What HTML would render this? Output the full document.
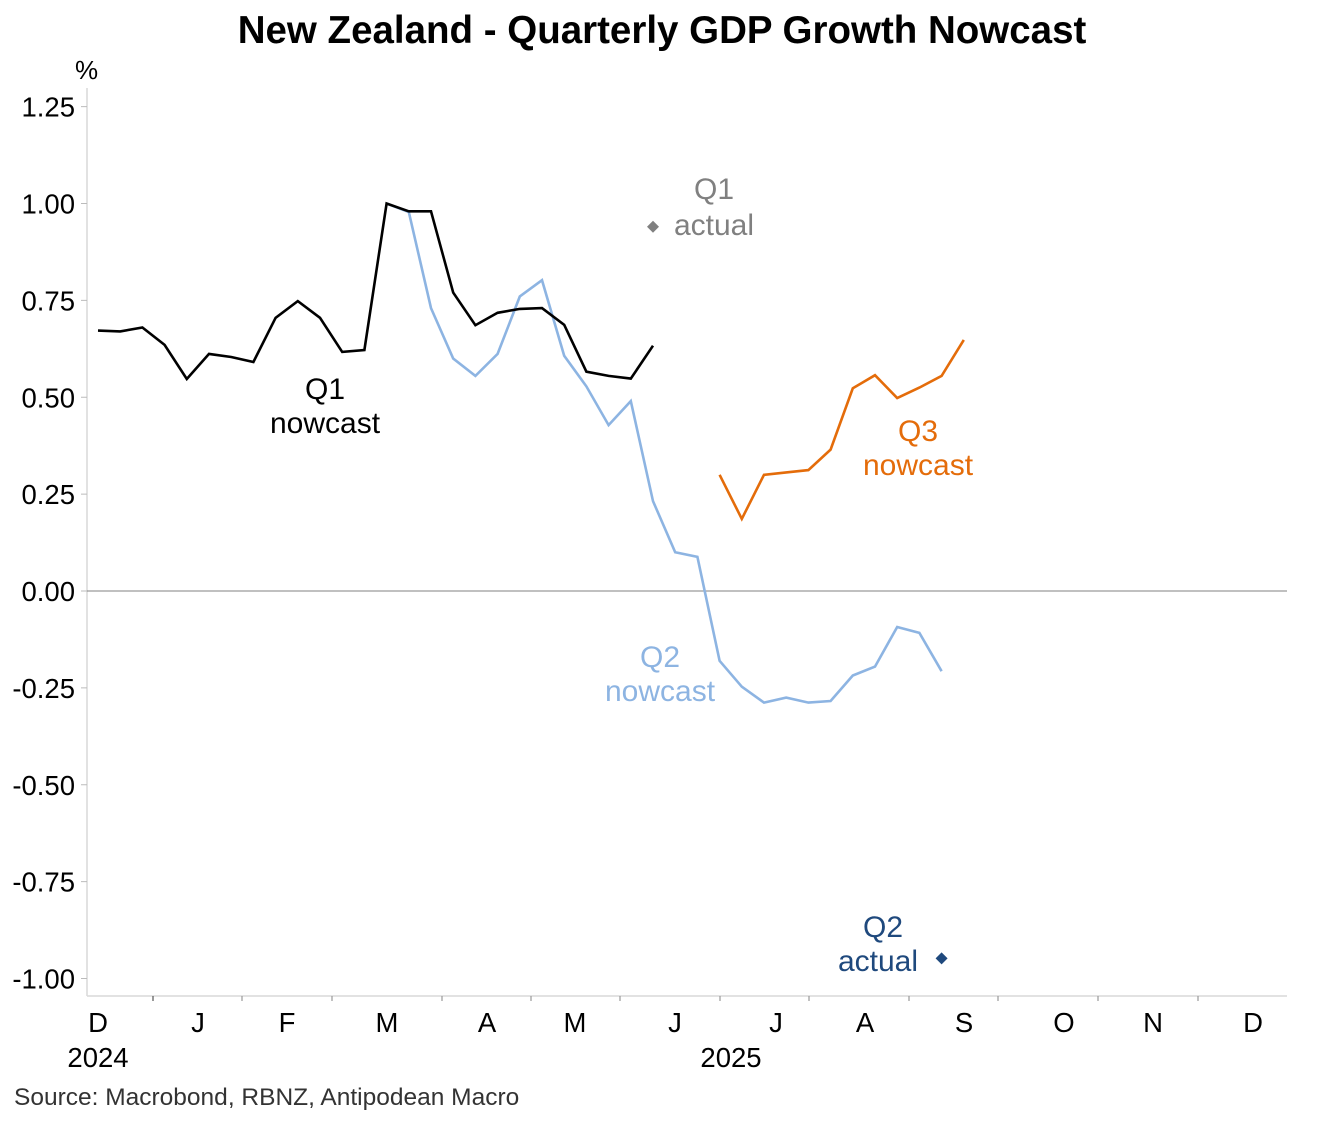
<!DOCTYPE html>
<html><head><meta charset="utf-8"><style>
body{margin:0;background:#fff;}
svg{display:block;font-family:"Liberation Sans",Arial,sans-serif;}
</style></head><body>
<svg width="1323" height="1122" viewBox="0 0 1323 1122">
<text x="662" y="43" text-anchor="middle" font-size="38.5" font-weight="bold" fill="#000">New Zealand - Quarterly GDP Growth Nowcast</text>
<text x="75" y="79" font-size="26" fill="#000">%</text>
<g id="axes"></g>
<g id="series"></g>
<text x="14" y="1105" font-size="24.5" fill="#333">Source: Macrobond, RBNZ, Antipodean Macro</text>
<text x="325" y="399" text-anchor="middle" font-size="30" fill="#000">Q1</text>
<text x="325" y="433" text-anchor="middle" font-size="30" fill="#000">nowcast</text>
<text x="714" y="199" text-anchor="middle" font-size="30" fill="#808080">Q1</text>
<text x="714" y="235" text-anchor="middle" font-size="30" fill="#808080">actual</text>
<text x="660" y="667" text-anchor="middle" font-size="30" fill="#8db4e2">Q2</text>
<text x="660" y="701" text-anchor="middle" font-size="30" fill="#8db4e2">nowcast</text>
<text x="918" y="441" text-anchor="middle" font-size="30" fill="#e46c0a">Q3</text>
<text x="918" y="475" text-anchor="middle" font-size="30" fill="#e46c0a">nowcast</text>
<text x="883" y="937" text-anchor="middle" font-size="30" fill="#1f497d">Q2</text>
<text x="878" y="971" text-anchor="middle" font-size="30" fill="#1f497d">actual</text>
</svg>
<script>
const yTicks=[1.25,1.00,0.75,0.50,0.25,0.00,-0.25,-0.50,-0.75,-1.00];
const yTickLabels=["1.25","1.00","0.75","0.50","0.25","0.00","-0.25","-0.50","-0.75","-1.00"];
const monthLabels=["D","J","F","M","A","M","J","J","A","S","O","N","D"];
const q1Nowcast=[0.672,0.670,0.680,0.635,0.547,0.612,0.604,0.591,0.705,0.748,0.705,0.617,0.622,1.00,0.98,0.98,0.77,0.686,0.718,0.728,0.730,0.687,0.566,0.555,0.548,0.633];
const q1Start=0;
const q2Nowcast=[1.00,0.978,0.73,0.60,0.555,0.612,0.76,0.802,0.607,0.528,0.428,0.49,0.232,0.10,0.088,-0.18,-0.247,-0.288,-0.275,-0.288,-0.284,-0.218,-0.195,-0.093,-0.108,-0.207];
const q2Start=13;
const q3Nowcast=[0.30,0.186,0.30,0.306,0.312,0.365,0.523,0.557,0.498,0.525,0.555,0.648];
const q3Start=28;
const q1Actual={week:25,value:0.94};
const q2Actual={week:38,value:-0.948};

const NS="http://www.w3.org/2000/svg";
const y=v=>591-v*387.5;
const x=w=>98+w*22.2;
const L=87,R=1287,B=996;
const axes=document.getElementById('axes'),ser=document.getElementById('series');
function mk(tag,attrs,parent){const e=document.createElementNS(NS,tag);for(const k in attrs)e.setAttribute(k,attrs[k]);parent.appendChild(e);return e;}

let e=mk('line',{x1:L,y1:88,x2:L,y2:B,stroke:'#d9d9d9','stroke-width':1.5},axes);


e=mk('line',{x1:L,y1:B,x2:R,y2:B,stroke:'#d9d9d9','stroke-width':1.5},axes);


yTicks.forEach((v,i)=>{
  let t=mk('line',{x1:81,y1:y(v),x2:L,y2:y(v),stroke:'#bbb','stroke-width':1},axes);
  
  
  let tx=mk('text',{x:75,y:y(v)+10,'text-anchor':'end','font-size':27.5,fill:'#000'},axes);
  tx.textContent=yTickLabels[i];
  
  
});
e=mk('line',{x1:L,y1:y(0),x2:R,y2:y(0),stroke:'#808080','stroke-width':1},axes);


const labX=[98,198,287,387,487,575,675,776,865,964,1064,1153,1253];
const tickX=[153,242,332,442,531,620,720,809,909,998,1098,1198];
tickX.forEach((p,i)=>{
  let t=mk('line',{x1:p,y1:B,x2:p,y2:B+5,stroke:i==0?'#555':'#999','stroke-width':1.2},axes);
  
  
});
monthLabels.forEach((m,i)=>{
  let tx=mk('text',{x:labX[i],y:1032,'text-anchor':'middle','font-size':27.5,fill:'#000'},axes);
  tx.textContent=m;
  
  
});
let y1=mk('text',{x:98,y:1067,'text-anchor':'middle','font-size':27.5},axes);y1.textContent='2024';


let y2=mk('text',{x:731,y:1067,'text-anchor':'middle','font-size':27.5},axes);y2.textContent='2025';



function line(arr,start,color,name){
  const pts=arr.map((v,i)=>x(start+i).toFixed(1)+','+y(v).toFixed(1)).join(' ');
  const p=mk('polyline',{points:pts,fill:'none',stroke:color,'stroke-width':2.6,'stroke-linejoin':'miter'},ser);
  
  
}
line(q2Nowcast,q2Start,'#8db4e2','q2-nowcast-line');
line(q1Nowcast,q1Start,'#000000','q1-nowcast-line');
line(q3Nowcast,q3Start,'#e46c0a','q3-nowcast-line');
function diamond(d,color,name){
  const cx=x(d.week),cy=y(d.value),s=6;
  const p=mk('polygon',{points:`${cx},${cy-s} ${cx+s},${cy} ${cx},${cy+s} ${cx-s},${cy}`,fill:color},ser);
  
  
}
diamond(q1Actual,'#808080','q1-actual-marker');
diamond(q2Actual,'#1f497d','q2-actual-marker');
</script>
</body></html>
